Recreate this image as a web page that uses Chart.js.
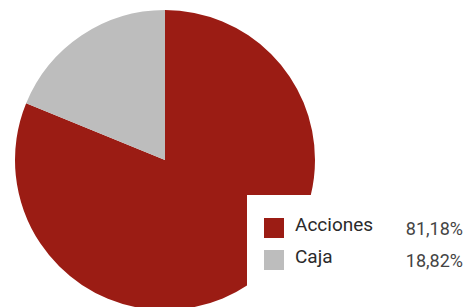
<!DOCTYPE html>
<html>
<head>
<meta charset="utf-8">
<script src="https://cdn.jsdelivr.net/npm/chart.js@4"></script>
<style>
    html, body { margin: 0; padding: 0; background: #fff; }
    #wrap { position: relative; width: 472px; height: 307px; overflow: hidden; }
    #legend {
        position: absolute; left: 247px; top: 195px; width: 225px; height: 112px;
        background: #fff; font-family: Roboto, sans-serif;
    }
    .row { position: absolute; left: 17px; height: 20px; width: 200px; }
    .box { position: absolute; left: 0; top: 0; width: 20px; height: 20px; }
    .lab { position: absolute; left: 31px; top: -4px; font-size: 19px; line-height: 22px; color: #2a2a2a; }
    .pct { position: absolute; right: 1px; top: 0px; font-size: 18px; line-height: 21px; color: #444; }
</style>
</head>
<body>
<div id="wrap">
    <canvas id="pie" width="472" height="320"></canvas>
    <div id="legend"></div>
</div>
<script>
var labels = ['Acciones', 'Caja'];
var values = [81.18, 18.82];
var pctLabels = ['81,18%', '18,82%'];
var colors = ['#9b1c14', '#bdbdbd'];

var ctx = document.getElementById('pie').getContext('2d');

var chart = new Chart(ctx, {
    type: 'pie',
    data: {
        labels: labels,
        datasets: [{
            data: values,
            backgroundColor: colors,
            borderWidth: 0
        }]
    },
    options: {
        responsive: false,
        animation: false,
        layout: {
            padding: { left: 15, top: 10, right: 157, bottom: 10 }
        },
        plugins: {
            legend: { display: false },
            tooltip: { enabled: false }
        }
    }
});

// legend drawn as html on top of the pie
var legend = document.getElementById('legend');
labels.forEach(function (label, i) {
    var row = document.createElement('div');
    row.className = 'row';
    row.style.top = (23 + i * 32) + 'px';
    row.innerHTML = '<div class="box" style="background:' + colors[i] + '"></div>' +
        '<div class="lab">' + label + '</div>' +
        '<div class="pct">' + pctLabels[i] + '</div>';
    legend.appendChild(row);
});
</script>
</body>
</html>
